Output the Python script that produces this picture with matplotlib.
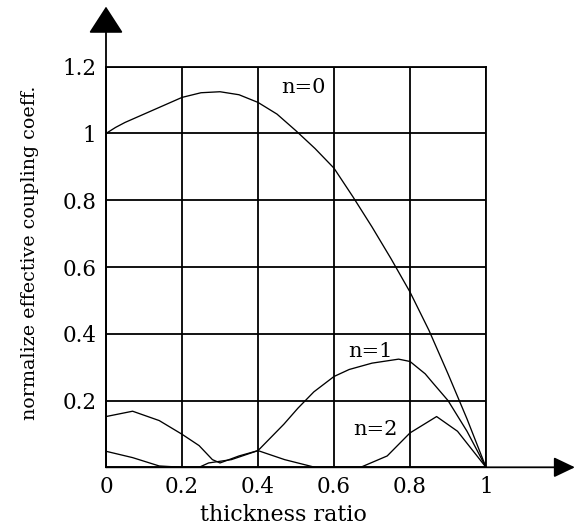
import matplotlib
matplotlib.use("Agg")
import matplotlib.pyplot as plt

# Thickness ratio and normalized effective coupling coefficient per mode
x_n0 = [0, 0.025, 0.05, 0.1, 0.15, 0.2, 0.25, 0.3, 0.35, 0.4, 0.45, 0.5,
        0.55, 0.6, 0.65, 0.7, 0.75, 0.8, 0.85, 0.9, 0.95, 1.0]
y_n0 = [1.0, 1.018, 1.033, 1.058, 1.083, 1.108, 1.122, 1.125, 1.116, 1.093,
        1.058, 1.008, 0.955, 0.896, 0.81, 0.72, 0.625, 0.525, 0.41, 0.28,
        0.145, 0.0]

x_n1 = [0, 0.07, 0.14, 0.2, 0.245, 0.28, 0.3, 0.35, 0.4, 0.468, 0.505, 0.547,
        0.6, 0.64, 0.7, 0.77, 0.8, 0.84, 0.86, 0.9, 0.95, 1.0]
y_n1 = [0.152, 0.168, 0.14, 0.099, 0.065, 0.023, 0.013, 0.034, 0.05, 0.129,
        0.177, 0.226, 0.272, 0.293, 0.312, 0.324, 0.317, 0.28, 0.253, 0.2,
        0.108, 0.0]

x_n2 = [0, 0.07, 0.14, 0.2, 0.245, 0.27, 0.33, 0.4, 0.47, 0.55, 0.6, 0.67,
        0.74, 0.8, 0.87, 0.925, 1.0]
y_n2 = [0.048, 0.029, 0.004, 0.0, 0.0, 0.013, 0.023, 0.05, 0.023, 0.0, 0.0,
        0.0, 0.034, 0.103, 0.152, 0.108, 0.0]

mode_labels = ["n=0", "n=1", "n=2"]
label_xy = [(0.52, 1.137), (0.697, 0.347), (0.709, 0.113)]

x_ticks = [0, 0.2, 0.4, 0.6, 0.8, 1.0]
x_tick_labels = ["0", "0.2", "0.4", "0.6", "0.8", "1"]
y_ticks = [0.2, 0.4, 0.6, 0.8, 1.0, 1.2]
y_tick_labels = ["0.2", "0.4", "0.6", "0.8", "1", "1.2"]

plt.rcParams["font.family"] = ["DejaVu Serif"]

fig = plt.figure(figsize=(5.76, 5.26), dpi=100)
ax = fig.add_axes([106 / 576, 58.7 / 526, 380 / 576, 400.6 / 526])
ax.set_xlim(0, 1)
ax.set_ylim(0, 1.2)

for s in ax.spines.values():
    s.set_linewidth(1.3)
    s.set_color("black")

ax.set_xticks(x_ticks)
ax.set_xticklabels(x_tick_labels, fontsize=15.5)
ax.set_yticks(y_ticks)
ax.set_yticklabels(y_tick_labels, fontsize=15.5)
ax.tick_params(axis="both", length=0, colors="black")
ax.tick_params(axis="x", pad=6)
ax.tick_params(axis="y", pad=7)
ax.grid(True, color="black", linewidth=1.3)
ax.set_axisbelow(True)

for xs, ys in [(x_n0, y_n0), (x_n1, y_n1), (x_n2, y_n2)]:
    ax.plot(xs, ys, color="black", linewidth=0.95, solid_joinstyle="round")

for txt, (tx, ty) in zip(mode_labels, label_xy):
    ax.text(tx, ty, txt, fontsize=15, ha="center", va="center", color="black")

# Axis arrows beyond the plotting frame
ax.annotate("", xy=(0, 1.15), xytext=(0, 0), xycoords="axes fraction",
            textcoords="axes fraction", annotation_clip=False,
            arrowprops=dict(arrowstyle="-|>,head_length=1.7,head_width=1.1",
                            mutation_scale=10, color="black", lw=1.3,
                            shrinkA=0, shrinkB=0))
ax.annotate("", xy=(1.234, 0), xytext=(0, 0), xycoords="axes fraction",
            textcoords="axes fraction", annotation_clip=False,
            arrowprops=dict(arrowstyle="-|>,head_length=1.3,head_width=0.62",
                            mutation_scale=10, color="black", lw=1.3,
                            shrinkA=0, shrinkB=0))

ax.set_xlabel("thickness ratio", fontsize=16, va="center")
ax.xaxis.set_label_coords(0.466, -0.119)
ax.set_ylabel("normalize effective coupling coeff.", fontsize=13.7, va="center")
ax.yaxis.set_label_coords(-0.2, 0.535)

fig.savefig("out.png", dpi=100)
